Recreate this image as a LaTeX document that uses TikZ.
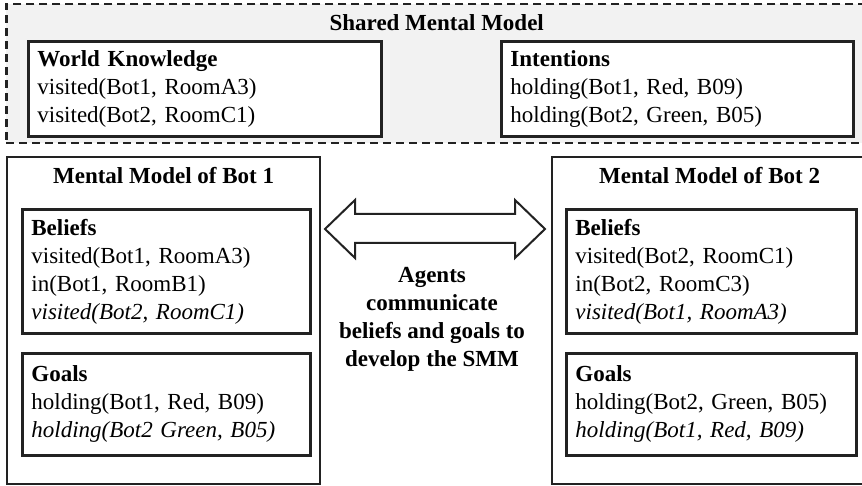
\documentclass[tikz,border=0pt]{standalone}
\usepackage{fontspec}
\setmainfont{Liberation Serif}
\usepackage{tikz}
\usetikzlibrary{positioning}
\definecolor{smmgray}{HTML}{F2F2F2}
\definecolor{inkdark}{HTML}{222222}

\begin{document}
\begin{tikzpicture}[
  x=1pt, y=-1pt,
  font=\fontsize{23}{28}\selectfont,
  shared/.style ={draw=inkdark, fill=smmgray, line width=2.5pt,
                  dash pattern=on 8pt off 5pt, anchor=north west, inner sep=0pt},
  frame/.style  ={draw=inkdark, fill=white, line width=2.2pt,
                  anchor=north west, inner sep=0pt},
  kbox/.style   ={draw=inkdark, fill=white, line width=2.8pt, anchor=north west,
                  align=left, inner xsep=9pt, inner ysep=0pt, text width=#1},
  ttl/.style    ={inner sep=0pt},
  ar/.style     ={draw=inkdark, fill=white, line width=2pt, line join=miter},
]
\path[use as bounding box, clip] (0,0) rectangle (862,486);

% shared mental model
\node[shared, minimum width=861pt, minimum height=139pt] (smm) at (5,3) {};
\node[ttl, below=11pt of smm.north] (smmtitle) {\textbf{Shared Mental Model}};

\node[kbox=335pt, minimum height=95pt] (world) at (27,40)
  {\textbf{World Knowledge}\\visited(Bot1, RoomA3)\\visited(Bot2, RoomC1)};
\node[kbox=334pt, minimum height=95pt] (intent) at (500,40)
  {\textbf{Intentions}\\holding(Bot1, Red, B09)\\holding(Bot2, Green, B05)};

% bot 1
\node[frame, minimum width=313pt, minimum height=327pt] (bot1) at (6,156) {};
\node[ttl, below=11pt of bot1.north] (bot1title) {\textbf{Mental Model of Bot 1}};
\node[kbox=270pt, minimum height=124pt] (bel1) at (21,208)
  {\textbf{Beliefs}\\visited(Bot1, RoomA3)\\in(Bot1, RoomB1)\\\textit{visited(Bot2, RoomC1)}};
\node[kbox=270pt, minimum height=102pt] (goal1) at (21,352)
  {\textbf{Goals}\\holding(Bot1, Red, B09)\\\textit{holding(Bot2 Green, B05)}};

% bot 2
\node[frame, minimum width=315pt, minimum height=327pt] (bot2) at (551,156) {};
\node[ttl, below=11pt of bot2.north] (bot2title) {\textbf{Mental Model of Bot 2}};
\node[kbox=272pt, minimum height=124pt] (bel2) at (565,208)
  {\textbf{Beliefs}\\visited(Bot2, RoomC1)\\in(Bot2, RoomC3)\\\textit{visited(Bot1, RoomA3)}};
\node[kbox=272pt, minimum height=102pt] (goal2) at (565,352)
  {\textbf{Goals}\\holding(Bot2, Green, B05)\\\textit{holding(Bot1, Red, B09)}};

% exchange between the bots
\draw[ar] (325,229) -- (355,200) -- (355,214) -- (515,214) -- (515,200)
  -- (545,229) -- (515,258) -- (515,243) -- (355,243) -- (355,258) -- cycle;
\node[align=center, inner sep=0pt] (comm) at (432,319)
  {\textbf{Agents}\\\textbf{communicate}\\\textbf{beliefs and goals to}\\\textbf{develop the SMM}};

\end{tikzpicture}
\end{document}
